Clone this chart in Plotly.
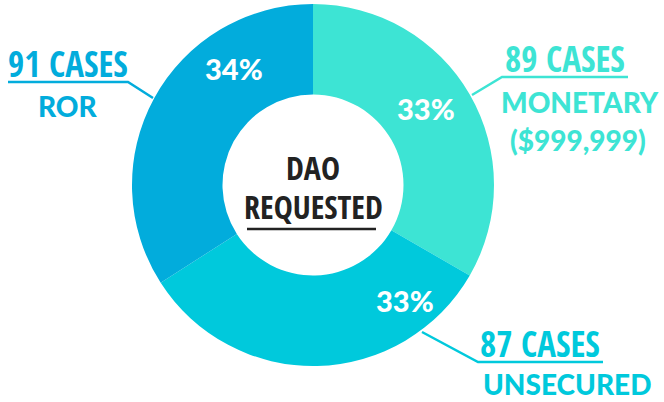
import plotly.graph_objects as go

categories = ["MONETARY", "UNSECURED", "ROR"]
cases = [89, 87, 91]
colors = ["#3de4d4", "#00c9dc", "#02acdc"]
sublabels = [["MONETARY", "($999,999)"], ["UNSECURED"], ["ROR"]]
center_title = ["DAO", "REQUESTED"]

W, H = 664, 402
cx, cy, R = 313, 185, 181


def px(x):
    return x / W


def py(y):
    return 1 - y / H


fig = go.Figure(go.Pie(
    labels=categories, values=cases, sort=False, direction="clockwise", rotation=0,
    hole=0.5, marker=dict(colors=colors, line=dict(width=0)), textinfo="none",
    hoverinfo="label+value+percent", showlegend=False,
    domain=dict(x=[px(cx - R), px(cx + R)], y=[py(cy + R), py(cy - R)]),
))

total = sum(cases)
pct = [f"{round(v / total * 100)}%" for v in cases]

cond = "Open Sans Condensed, Roboto Condensed, sans-serif"
geo = "Lato, sans-serif"

ann = []
# percent labels (pixel positions of label centres)
pct_pos = [(426, 108), (405, 300), (234, 68)]
for p, (x, y) in zip(pct, pct_pos):
    ann.append(dict(x=px(x), y=py(y), text=p, showarrow=False,
                    xanchor="center", yanchor="middle",
                    font=dict(family=geo, size=29, color="white", weight=900)))

# case headers
head_pos = [(565, 59), (540, 343), (68, 63)]
for c, col, (x, y) in zip(cases, colors, head_pos):
    ann.append(dict(x=px(x), y=py(y), text=f"{c} CASES", showarrow=False,
                    xanchor="center", yanchor="middle",
                    font=dict(family=cond, size=35, color=col, weight="bold")))

# sub labels
sub_pos = [[(580, 102), (578, 140)], [(567, 384)], [(68, 106)]]
for lines, col, poss in zip(sublabels, colors, sub_pos):
    for s, (x, y) in zip(lines, poss):
        ann.append(dict(x=px(x), y=py(y), text=s, showarrow=False,
                        xanchor="center", yanchor="middle",
                        font=dict(family=geo, size=28, color=col, weight=900)))

# centre title
for t, y in zip(center_title, [167, 206]):
    ann.append(dict(x=px(cx), y=py(y), text=t, showarrow=False,
                    xanchor="center", yanchor="middle",
                    font=dict(family=cond, size=32, color="#222222", weight="bold")))

shapes = []
leaders = [
    [(628, 77), (502, 77), (472, 95)],
    [(603, 362), (478, 362), (422, 332)],
    [(8, 82), (128, 82), (153, 98)],
]
for pts, col in zip(leaders, colors):
    path = "M " + " L ".join(f"{px(x)},{py(y)}" for x, y in pts)
    shapes.append(dict(type="path", path=path, xref="paper", yref="paper",
                       line=dict(color=col, width=2.5)))
shapes.append(dict(type="line", xref="paper", yref="paper", x0=px(247), x1=px(376),
                   y0=py(229), y1=py(229), line=dict(color="#222222", width=2.5)))

fig.update_layout(width=W, height=H, margin=dict(l=0, r=0, t=0, b=0),
                  paper_bgcolor="white", plot_bgcolor="white",
                  annotations=ann, shapes=shapes)
fig.write_html("out.html", config={"displayModeBar": False},
               post_script="document.body.style.margin='0';")
